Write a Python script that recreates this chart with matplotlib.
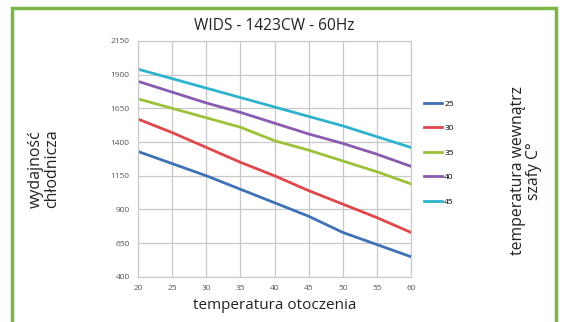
import matplotlib
matplotlib.use("Agg")
import matplotlib.pyplot as plt
from matplotlib.patches import Rectangle

# data
ambient = [20, 25, 30, 35, 40, 45, 50, 55, 60]
cab_temps = ["25", "30", "35", "40", "45"]
capacity = {
    "25": [1330, 1240, 1150, 1050, 950, 850, 730, 640, 550],
    "30": [1570, 1470, 1360, 1250, 1150, 1040, 940, 840, 730],
    "35": [1720, 1650, 1580, 1510, 1410, 1340, 1260, 1180, 1090],
    "40": [1850, 1770, 1690, 1620, 1540, 1460, 1390, 1310, 1220],
    "45": [1940, 1870, 1800, 1730, 1660, 1590, 1520, 1440, 1360],
}
y_ticks = [400, 650, 900, 1150, 1400, 1650, 1900, 2150]
colors = {"25": "#3f72b5", "30": "#e0474c", "35": "#9cc23a",
          "40": "#8a5bb0", "45": "#2fb3cc"}

plt.rcParams["font.family"] = ["Open Sans", "DejaVu Sans"]

fig = plt.figure(figsize=(5.66, 3.22), dpi=100)
ax = fig.add_axes([0.244, 0.140, 0.482, 0.733])

lines = []
for t in cab_temps:
    ln, = ax.plot(ambient, capacity[t], color=colors[t], lw=2.0, label=t)
    lines.append(ln)

ax.set_xlim(20, 60)
ax.set_ylim(400, 2150)
ax.set_xticks(ambient)
ax.set_yticks(y_ticks)
ax.tick_params(labelsize=6, colors="#555555", length=0, pad=6)
ax.grid(True, color="#c8c8c8", lw=0.9)
for s in ax.spines.values():
    s.set_color("#c8c8c8")

ax.set_title("WIDS - 1423CW - 60Hz", fontsize=11.2, pad=8, color="#222222")
ax.set_xlabel("temperatura otoczenia", fontsize=11, labelpad=4, color="#222222")

fig.text(0.078, 0.475, "wydajność\nchłodnicza", rotation=90, ha="center",
         va="center", fontsize=11.5, linespacing=1.0, color="#222222")
fig.text(0.929, 0.47, "temperatura wewnątrz\nszafy C°", rotation=90,
         ha="center", va="center", fontsize=11.3, linespacing=1.0, color="#222222")

fig.legend(handles=lines, loc="center left", bbox_to_anchor=(0.735, 0.525),
           frameon=False, fontsize=6, handlelength=2.2, labelspacing=2.0,
           handletextpad=0.3)

fig.patches.append(Rectangle((0.022, -0.05), 0.96, 1.025, transform=fig.transFigure,
                             fill=False, edgecolor="#7ab648", lw=2.5))

fig.savefig("out.png", dpi=100)
